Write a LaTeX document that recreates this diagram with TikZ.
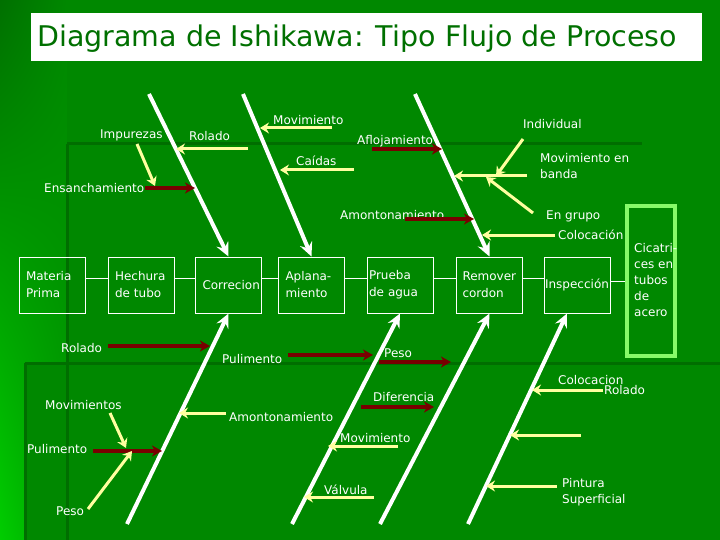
\documentclass[tikz,border=0pt]{standalone}
\usepackage{fontspec}
\setmainfont{DejaVu Sans}
\usetikzlibrary{arrows.meta,shadings}
\definecolor{bgmain}{RGB}{0,136,0}
\definecolor{bgdark}{RGB}{0,110,0}
\definecolor{bgtopleft}{RGB}{0,112,0}
\definecolor{bgbright}{RGB}{0,205,0}
\definecolor{bgmid}{RGB}{0,160,0}
\definecolor{titlegreen}{RGB}{0,112,0}
\definecolor{causeyellow}{RGB}{255,255,160}
\definecolor{causered}{RGB}{120,0,0}
\definecolor{cicgreen}{RGB}{135,250,105}
\begin{document}
\begin{tikzpicture}[x=1pt,y=-1pt,
  lbl/.style={text=white,inner sep=0pt,font=\fontsize{12}{16}\selectfont,anchor=base west},
  lblw/.style={text=white,inner sep=0pt,font=\fontsize{12}{16}\selectfont,anchor=west,align=left},
  procbox/.style={draw=white,line width=1pt,minimum width=66pt,minimum height=56pt,inner xsep=7pt,inner ysep=2pt,
    text width=52pt,text=white,align=left,font=\fontsize{12}{17}\selectfont},
  cicbox/.style={draw=cicgreen,line width=4pt,minimum width=48pt,minimum height=150pt,inner sep=0pt},
  bone/.style={draw=white,line width=4pt,-{Stealth[length=14pt,width=13pt,inset=5pt]}},
  ycause/.style={draw=causeyellow,line width=3pt,-{Stealth[length=9pt,width=11pt,inset=3pt]}},
  rcause/.style={draw=causered,line width=4pt,-{Stealth[length=10pt,width=11pt,inset=3pt]}},
  link/.style={draw=white,line width=1pt},
  bgline/.style={draw=bgdark,line width=3pt}
]
\useasboundingbox (0,0) rectangle (720,540);
% background
\fill[bgmain] (0,0) rectangle (720,540);
\shade[upper left=bgtopleft,upper right=bgmain,lower left=bgbright,lower right=bgmid] (0,0) rectangle (67,540);
\fill[bgmain] (67,144) rectangle (720,540);
\fill[bgmain] (25,363) rectangle (720,540);
\draw[bgline] (67,144) -- (642,144);
\draw[bgline] (67,144) -- (67,540);
\draw[bgline] (25,363) -- (720,363);
\draw[bgline] (25,363) -- (25,540);

% title
\fill[white] (31,13) rectangle (702,61);
\node[anchor=west,inner sep=0pt,text=titlegreen,font=\fontsize{28.5}{32}\selectfont] (title) at (37,39) {Diagrama de Ishikawa: Tipo Flujo de Proceso};

% process boxes
\node[procbox] (mp) at (52,285) {Materia\\Prima};
\node[procbox] (ht) at (141,285) {Hechura\\de tubo};
\node[procbox] (co) at (228.5,285) {Correcion};
\node[procbox] (ap) at (311.5,285) {Aplana-\\miento};
\node[procbox,inner xsep=2pt,text width=62pt] (pa) at (400,285) {Prueba\\de agua};
\node[procbox,inner xsep=6pt,text width=54pt] (rc) at (489.5,285) {Remover\\cordon};
\node[procbox,align=center,inner xsep=0pt,text width=66pt] (in) at (577,285) {Inspección};
\node[cicbox] (cic) at (651,281) {};
\node[lblw] (cictext) at (634,280) {Cicatri-\\ces en\\tubos\\de\\acero};

\draw[link] ([yshift=7pt]mp.east) -- ([yshift=7pt]ht.west);
\draw[link] ([yshift=7pt]ht.east) -- ([yshift=7pt]co.west);
\draw[link] ([yshift=7pt]co.east) -- ([yshift=7pt]ap.west);
\draw[link] ([yshift=7pt]ap.east) -- ([yshift=7pt]pa.west);
\draw[link] ([yshift=7pt]pa.east) -- ([yshift=7pt]rc.west);
\draw[link] ([yshift=7pt]rc.east) -- ([yshift=7pt]in.west);
\draw[link] ([yshift=4pt]in.east) -- ([yshift=4pt]in.east -| cic.west);

% bones
\coordinate (b1) at (149,94);
\coordinate (b2) at (243,94);
\coordinate (b3) at (415,94);
\coordinate (b4) at (127,524);
\coordinate (b5) at (292,524);
\coordinate (b6) at (380,524);
\coordinate (b7) at (468,524);
\draw[bone] (b1) -- (co.north);
\draw[bone] (b2) -- (ap.north);
\draw[bone] (b3) -- (rc.north);
\draw[bone] (b4) -- (co.south);
\draw[bone] (b5) -- (pa.south);
\draw[bone] (b6) -- (rc.south);
\draw[bone] (b7) -- ([xshift=-10pt]in.south);

% labels
\node[lbl] (impurezas) at (100,139) {Impurezas};
\node[lbl] (ensanch) at (44,193) {Ensanchamiento};
\node[lbl] (rolado1) at (189,141) {Rolado};
\node[lbl] (movim1) at (273,125) {Movimiento};
\node[lbl] (caidas) at (296,166) {Caídas};
\node[lbl] (aflojam) at (357,145) {Aflojamiento};
\node[lbl] (amont1) at (340,219) {Amontonamiento};
\node[lbl] (individual) at (523,129) {Individual};
\node[lblw] (movbanda) at (540,166) {Movimiento en\\banda};
\node[lbl] (engrupo) at (546,219) {En grupo};
\node[lbl] (coloc1) at (558,240) {Colocación};
\node[lbl] (rolado2) at (61,352) {Rolado};
\node[lbl] (pulim1) at (222,363) {Pulimento};
\node[lbl] (peso1) at (384,357) {Peso};
\node[lbl] (diferencia) at (373,401) {Diferencia};
\node[lbl] (amont2) at (229,421) {Amontonamiento};
\node[lbl] (movim2) at (340,442) {Movimiento};
\node[lbl] (valvula) at (324,494) {Válvula};
\node[lbl] (movims) at (45,409) {Movimientos};
\node[lbl] (pulim2) at (27,453) {Pulimento};
\node[lbl] (peso2) at (56,515) {Peso};
\node[lbl] (coloc2) at (558,384) {Colocacion};
\node[lbl] (rolado3) at (604,394) {Rolado};
\node[lblw] (pintura) at (562,492) {Pintura\\Superficial};

% cause arrow end points
\coordinate (y1s) at (137,144);  \coordinate (y1e) at (155,186);
\coordinate (r1s) at (145,188);  \coordinate (r1e) at (195,188);
\coordinate (y2s) at (248,149);  \coordinate (y2e) at (176,149);
\coordinate (y3s) at (332,128);  \coordinate (y3e) at (260,128);
\coordinate (y4s) at (354,170);  \coordinate (y4e) at (280,170);
\coordinate (r2s) at (372,149);  \coordinate (r2e) at (442,149);
\coordinate (r3s) at (405,219);  \coordinate (r3e) at (474,219);
\coordinate (y5s) at (523,139);  \coordinate (y5e) at (496,176);
\coordinate (y6s) at (527,176);  \coordinate (y6e) at (454,176);
\coordinate (y7s) at (533,213);  \coordinate (y7e) at (486,177);
\coordinate (y8s) at (555,235);  \coordinate (y8e) at (482,235);
\coordinate (r4s) at (108,346);  \coordinate (r4e) at (210,346);
\coordinate (r5s) at (288,355);  \coordinate (r5e) at (373,355);
\coordinate (r6s) at (379,362);  \coordinate (r6e) at (451,362);
\coordinate (r7s) at (361,407);  \coordinate (r7e) at (434,407);
\coordinate (y9s) at (226,413);  \coordinate (y9e) at (179,413);
\coordinate (y10s) at (398,446); \coordinate (y10e) at (328,446);
\coordinate (y11s) at (374,497); \coordinate (y11e) at (304,497);
\coordinate (y12s) at (110,413); \coordinate (y12e) at (126,448);
\coordinate (r8s) at (93,451);   \coordinate (r8e) at (162,451);
\coordinate (y13s) at (88,509);  \coordinate (y13e) at (132,451);
\coordinate (y14s) at (603,390); \coordinate (y14e) at (532,390);
\coordinate (y15s) at (581,435); \coordinate (y15e) at (510,435);
\coordinate (y16s) at (557,486); \coordinate (y16e) at (486,486);

\draw[rcause] (r1s) -- (r1e);
\draw[rcause] (r2s) -- (r2e);
\draw[rcause] (r3s) -- (r3e);
\draw[rcause] (r4s) -- (r4e);
\draw[rcause] (r5s) -- (r5e);
\draw[rcause] (r6s) -- (r6e);
\draw[rcause] (r7s) -- (r7e);
\draw[rcause] (r8s) -- (r8e);
\draw[ycause] (y1s) -- (y1e);
\draw[ycause] (y2s) -- (y2e);
\draw[ycause] (y3s) -- (y3e);
\draw[ycause] (y4s) -- (y4e);
\draw[ycause] (y5s) -- (y5e);
\draw[ycause] (y6s) -- (y6e);
\draw[ycause] (y7s) -- (y7e);
\draw[ycause] (y8s) -- (y8e);
\draw[ycause] (y9s) -- (y9e);
\draw[ycause] (y10s) -- (y10e);
\draw[ycause] (y11s) -- (y11e);
\draw[ycause] (y12s) -- (y12e);
\draw[ycause] (y13s) -- (y13e);
\draw[ycause] (y14s) -- (y14e);
\draw[ycause] (y15s) -- (y15e);
\draw[ycause] (y16s) -- (y16e);
\end{tikzpicture}
\end{document}
